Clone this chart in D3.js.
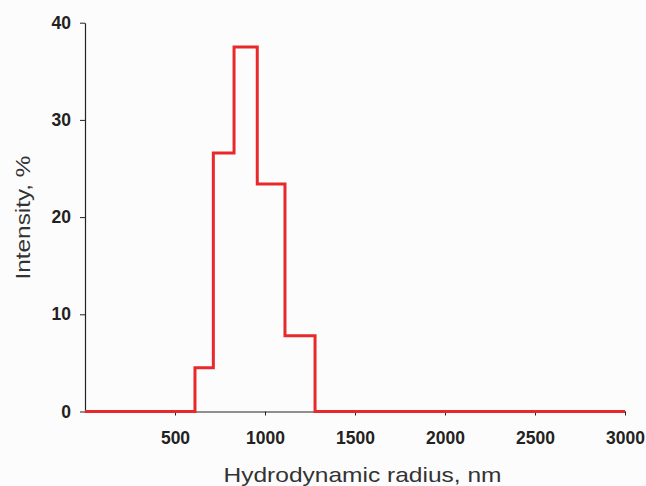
<!DOCTYPE html>
<html><head><meta charset="utf-8">
<script src="https://cdn.jsdelivr.net/npm/d3@7"></script>
<style>
html,body{margin:0;padding:0;background:#fdfcfc;}
svg{display:block;}
</style></head>
<body>
<svg id="c" width="646" height="486"></svg>
<script>
const binEdges = [0, 611, 713, 828, 957, 1111, 1278, 3000];
const intensity = [0, 4.5, 26.6, 37.5, 23.4, 7.8, 0];
const xTicks = [500, 1000, 1500, 2000, 2500, 3000];
const yTicks = [0, 10, 20, 30, 40];

const svg = d3.select("#c");
const x = d3.scaleLinear().domain([0, 3000]).range([85, 625]);
const y = d3.scaleLinear().domain([0, 40]).range([411.5, 22.7]);

svg.append("rect").attr("width", 646).attr("height", 486).attr("fill", "#fdfcfc");

const font = "'Liberation Sans', Arial, sans-serif";

const gx = svg.append("g").attr("transform", `translate(0,${y(0)})`)
  .call(d3.axisBottom(x).tickValues(xTicks).tickFormat(d3.format("d")).tickSize(4).tickPadding(16).tickSizeOuter(0));
gx.select(".domain").attr("stroke", "#222").attr("stroke-width", 1.2);
gx.selectAll(".tick line").attr("stroke", "#222");
gx.selectAll("text").attr("font-family", font).attr("font-size", 17.5).attr("font-weight", "bold").attr("fill", "#222");

const gy = svg.append("g").attr("transform", `translate(${x(0)},0)`)
  .call(d3.axisLeft(y).tickValues(yTicks).tickFormat(d3.format("d")).tickSize(5).tickPadding(9).tickSizeOuter(0));
gy.select(".domain").attr("stroke", "#222").attr("stroke-width", 1.2);
gy.selectAll(".tick line").attr("stroke", "#222");
gy.selectAll("text").attr("font-family", font).attr("font-size", 17.5).attr("font-weight", "bold").attr("fill", "#222");

const pts = binEdges.map((e, i) => [e, i < intensity.length ? intensity[i] : 0]);
const line = d3.line().x(d => x(d[0])).y(d => y(d[1])).curve(d3.curveStepAfter);
svg.append("path").datum(pts).attr("d", line)
  .attr("fill", "none").attr("stroke", "#e8292b").attr("stroke-width", 3).attr("stroke-linejoin", "miter");

svg.append("text").attr("x", 362.5).attr("y", 481.5).attr("text-anchor", "middle")
  .attr("font-family", font).attr("font-size", 21).attr("fill", "#333")
  .attr("textLength", 278).attr("lengthAdjust", "spacingAndGlyphs")
  .text("Hydrodynamic radius, nm");
svg.append("text").attr("transform", "translate(30,217.5) rotate(-90)").attr("text-anchor", "middle")
  .attr("font-family", font).attr("font-size", 21).attr("fill", "#333")
  .attr("textLength", 124).attr("lengthAdjust", "spacingAndGlyphs")
  .text("Intensity, %");
</script>
</body></html>
